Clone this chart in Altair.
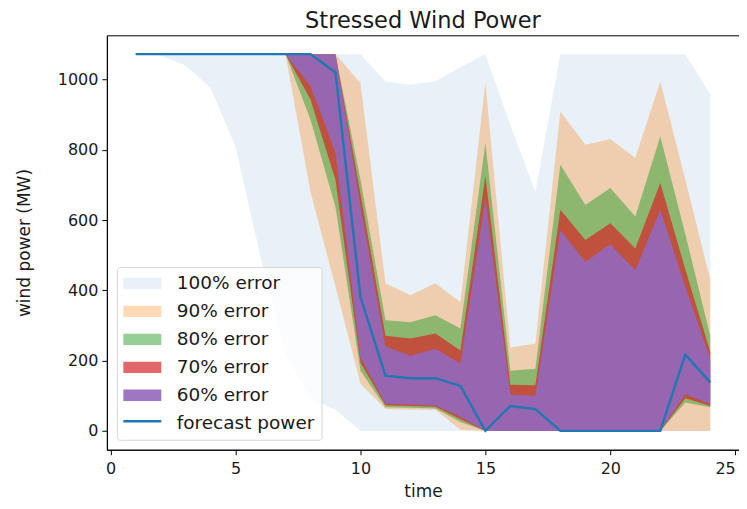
import altair as alt
import pandas as pd

# ---------------- data ----------------
time = list(range(1, 25))

forecast = [1072, 1072, 1072, 1072, 1072, 1072, 1072, 1072, 1020, 381, 157, 150,
            150, 128, 0, 71, 62, 0, 0, 0, 0, 0, 217, 138]

hi100 = [1072, 1072, 1072, 1072, 1072, 1072, 1072, 1072, 1072, 1072, 994, 985,
         994, 1035, 1072, 870, 680, 1072, 1072, 1072, 1072, 1072, 1072, 957]
lo100 = [1072, 1068, 1040, 976, 809, 495, 220, 90, 60, 0, 0, 0,
         0, 0, 0, 0, 0, 0, 0, 0, 0, 0, 0, 0]

hi90 = [1072, 1072, 1072, 1072, 1072, 1072, 1072, 1072, 1072, 990, 420, 386,
        420, 366, 991, 237, 249, 909, 814, 830, 777, 994, 715, 430]
lo90 = [1072, 1072, 1072, 1072, 1072, 1072, 1072, 680, 410, 135, 62, 60,
        60, 3, 0, 0, 0, 0, 0, 0, 0, 0, 0, 0]

hi80 = [1072, 1072, 1072, 1072, 1072, 1072, 1072, 1072, 1072, 715, 315, 309,
        329, 291, 820, 171, 177, 757, 643, 691, 610, 838, 560, 270]
lo80 = [1072, 1072, 1072, 1072, 1072, 1072, 1072, 886, 637, 171, 67, 66,
        64, 25, 0, 0, 0, 0, 0, 0, 0, 0, 81, 67]

hi70 = [1072, 1072, 1072, 1072, 1072, 1072, 1072, 1072, 1072, 675, 271, 263,
        277, 229, 725, 131, 130, 629, 543, 591, 519, 705, 460, 225]
lo70 = [1072, 1072, 1072, 1072, 1072, 1072, 1072, 943, 714, 194, 73, 71,
        69, 33, 0, 0, 0, 0, 0, 0, 0, 0, 93, 71]

hi60 = [1072, 1072, 1072, 1072, 1072, 1072, 1072, 1072, 1072, 640, 240, 214,
        234, 191, 660, 103, 100, 571, 481, 531, 457, 629, 410, 205]
lo60 = [1072, 1072, 1072, 1072, 1072, 1072, 1072, 981, 791, 209, 77, 75,
        72, 40, 0, 0, 0, 0, 0, 0, 0, 0, 105, 76]

bands = ["100% error", "90% error", "80% error", "70% error", "60% error"]
line_label = "forecast power"
band_colors = ["rgba(31,119,180,0.1)", "rgba(255,127,14,0.3)", "rgba(44,160,44,0.5)",
               "rgba(214,39,40,0.7)", "rgba(148,103,189,0.9)"]
line_color = "#1f77b4"

x_ticks = [0, 5, 10, 15, 20, 25]
y_ticks = [0, 200, 400, 600, 800, 1000]

# ---------------- tables ----------------
lows = [lo100, lo90, lo80, lo70, lo60]
highs = [hi100, hi90, hi80, hi70, hi60]
rows = []
for b, lo, hi in zip(bands, lows, highs):
    for t, l, h in zip(time, lo, hi):
        rows.append({"time": t, "low": l, "high": h, "series": b})
band_df = pd.DataFrame(rows)
fc_df = pd.DataFrame({"time": time, "power": forecast, "series": line_label})

FONT = "DejaVu Sans"
PATCH = "M-2,-0.6H2V0.6H-2Z"

x_enc = alt.X("time:Q",
              scale=alt.Scale(domain=[-0.15, 25.15], nice=False, zero=False),
              axis=alt.Axis(values=x_ticks, title="time", labelPadding=6,
                            titlePadding=7, format="d",
                            labelAlign={"condition": {"test": "datum.value === 25",
                                                      "value": "right"},
                                        "value": "center"}))
y_axis = alt.Axis(values=y_ticks, title="wind power (MW)", labelPadding=4,
                  titlePadding=24, format="d")
y_scale = alt.Scale(domain=[-53.6, 1125.6], nice=False, zero=False)

# main legend: filled bands (+ a transparent slot for the forecast line entry)
fill_enc = alt.Fill(
    "series:N",
    scale=alt.Scale(domain=bands + [line_label],
                    range=band_colors + ["rgba(0,0,0,0)"]),
    legend=alt.Legend(
        title=None, orient="bottom-left", offset=10,
        fillColor="rgba(255,255,255,0.8)", strokeColor="#d6d6d6", cornerRadius=3,
        padding=7, symbolType=PATCH, symbolSize=361, symbolStrokeWidth=0,
        symbolOffset=9, labelOffset=25, rowPadding=9, labelFontSize=18.5,
        labelFont=FONT, labelColor="#1a1a1a", labelLimit=300,
    ),
)

# overlay legend: only the line symbol of the forecast entry
stroke_enc = alt.Stroke(
    "series:N",
    scale=alt.Scale(domain=[line_label], range=[line_color]),
    legend=alt.Legend(
        title=None, orient="none", legendX=15, legendY=366, padding=0,
        symbolType="stroke", symbolSize=1444, symbolStrokeWidth=2.4,
        labelOpacity=0, labelFontSize=1, zindex=1,
    ),
)

layers = []
for b in bands:
    layers.append(
        alt.Chart(band_df)
        .transform_filter(alt.datum.series == b)
        .mark_area(opacity=1, interpolate="linear")
        .encode(x=x_enc,
                y=alt.Y("low:Q", scale=y_scale, axis=y_axis),
                y2="high:Q",
                fill=fill_enc)
    )

line = (
    alt.Chart(fc_df)
    .mark_line(strokeWidth=2.4)
    .encode(x=x_enc,
            y=alt.Y("power:Q", scale=y_scale, axis=y_axis),
            stroke=stroke_enc)
)

chart = (
    alt.layer(*layers, line)
    .properties(
        width=633, height=415,
        title=alt.Title("Stressed Wind Power"),
        autosize=alt.AutoSizeParams(type="none"),
        padding={"left": 99, "top": 27, "right": 0, "bottom": 51},
    )
    .configure_view(stroke="black", strokeWidth=1)
    .configure_axis(grid=False, domainColor="black", tickColor="black",
                    tickSize=5, domainWidth=1, tickWidth=1,
                    labelFont=FONT, titleFont=FONT, labelFontSize=16,
                    titleFontSize=17, labelColor="#1a1a1a", titleColor="#1a1a1a",
                    titleFontWeight="normal")
    .configure_title(font=FONT, fontSize=22.5, fontWeight="normal",
                     color="#1a1a1a", offset=3, anchor="middle")
)

chart.save("out.html", embed_options={"renderer": "svg", "actions": False})
